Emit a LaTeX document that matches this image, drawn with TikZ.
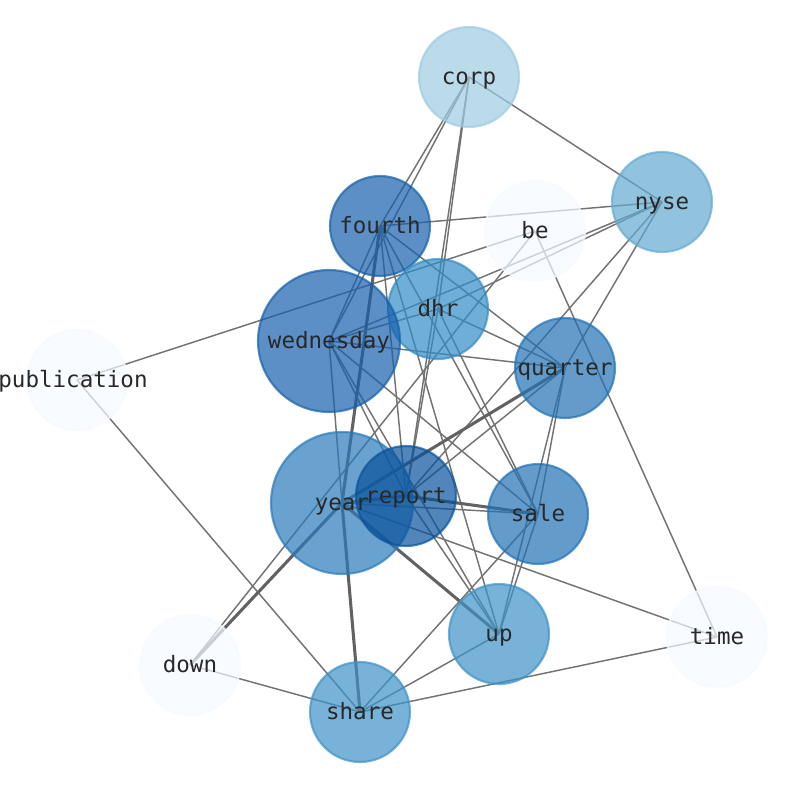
\documentclass[tikz,border=0pt]{standalone}
\usepackage{fontspec}
\newfontfamily\lblfont{DejaVu Sans Mono}
\definecolor{cCorp}{RGB}{158,202,225}
\definecolor{cNyse}{RGB}{99,169,208}
\definecolor{cPale}{RGB}{245,250,255}
\definecolor{cFourth}{RGB}{22,96,172}
\definecolor{cDhr}{RGB}{50,140,197}
\definecolor{cQuarter}{RGB}{33,113,181}
\definecolor{cYear}{RGB}{41,121,186}
\definecolor{cReport}{RGB}{8,81,156}
\definecolor{cUp}{RGB}{62,145,199}
\definecolor{cEdge}{RGB}{115,115,115}
\definecolor{cText}{RGB}{40,40,40}
\begin{document}
\begin{tikzpicture}[x=0.75pt,y=-0.75pt,
  edge/.style={draw=cEdge, line width=1.1pt},
  heavy/.style={draw=cEdge!85!black, line width=2.3pt},
  vtx/.style={circle, inner sep=0pt, minimum size=75pt, fill opacity=0.7, draw opacity=0.7, line width=1.6pt},
  bigvtx/.style={vtx, minimum size=106.5pt},
  lbl/.style={inner sep=0pt, text=cText, yshift=-1.6pt, font=\lblfont\fontsize{16.9}{18}\selectfont, text height=12pt, text depth=3.5pt}]
\useasboundingbox (0,0) rectangle (794,790);
% node centres
\coordinate (corp) at (469,77);
\coordinate (nyse) at (662,202);
\coordinate (be) at (535,231);
\coordinate (fourth) at (380,226);
\coordinate (dhr) at (438,309);
\coordinate (wed) at (329,341);
\coordinate (quarter) at (565,368);
\coordinate (pub) at (77,380);
\coordinate (year) at (342,503);
\coordinate (report) at (406,496);
\coordinate (sale) at (538,514);
\coordinate (up) at (499,634);
\coordinate (time) at (717,637);
\coordinate (down) at (190,665);
\coordinate (share) at (360,712);
% edges
\draw[edge] (corp) -- (nyse);
\draw[edge] (corp) -- (fourth);
\draw[edge] (corp) -- (wed);
\draw[edge] (corp) -- (dhr);
\draw[edge] (corp) -- (report);
\draw[edge] (nyse) -- (fourth);
\draw[edge] (nyse) -- (wed);
\draw[edge] (nyse) -- (dhr);
\draw[edge] (nyse) -- (quarter);
\draw[edge] (nyse) -- (report);
\draw[edge] (be) -- (pub);
\draw[edge] (be) -- (down);
\draw[edge] (be) -- (time);
\draw[edge] (fourth) -- (wed);
\draw[heavy] (fourth) -- (year);
\draw[edge] (fourth) -- (report);
\draw[edge] (fourth) -- (up);
\draw[edge] (fourth) -- (sale);
\draw[edge] (fourth) -- (quarter);
\draw[edge] (dhr) -- (wed);
\draw[edge] (dhr) -- (quarter);
\draw[edge] (dhr) -- (sale);
\draw[edge] (dhr) -- (report);
\draw[edge] (wed) -- (quarter);
\draw[edge] (wed) -- (year);
\draw[edge] (wed) -- (report);
\draw[edge] (wed) -- (up);
\draw[edge] (wed) -- (sale);
\draw[heavy] (quarter) -- (year);
\draw[edge] (quarter) -- (report);
\draw[edge] (quarter) -- (sale);
\draw[edge] (quarter) -- (up);
\draw[edge] (pub) -- (share);
\draw[heavy] (year) -- (report);
\draw[edge] (year) -- (sale);
\draw[heavy] (year) -- (up);
\draw[edge] (year) -- (time);
\draw[heavy] (year) -- (share);
\draw[heavy] (year) -- (down);
\draw[heavy] (report) -- (sale);
\draw[edge] (report) -- (up);
\draw[edge] (sale) -- (up);
\draw[edge] (sale) -- (share);
\draw[edge] (up) -- (share);
\draw[edge] (share) -- (time);
\draw[edge] (down) -- (share);
% nodes
\node[vtx, fill=cCorp, draw=cCorp] (corp-c) at (corp) {};
\node[vtx, fill=cNyse, draw=cNyse] (nyse-c) at (nyse) {};
\node[vtx, fill=cPale, draw=cPale] (be-c) at (be) {};
\node[vtx, fill=cFourth, draw=cFourth] (fourth-c) at (fourth) {};
\node[vtx, fill=cDhr, draw=cDhr] (dhr-c) at (dhr) {};
\node[bigvtx, fill=cFourth, draw=cFourth] (wed-c) at (wed) {};
\node[vtx, fill=cQuarter, draw=cQuarter] (quarter-c) at (quarter) {};
\node[vtx, fill=cPale, draw=cPale] (pub-c) at (pub) {};
\node[bigvtx, fill=cYear, draw=cYear] (year-c) at (year) {};
\node[vtx, fill=cReport, draw=cReport] (report-c) at (report) {};
\node[vtx, fill=cQuarter, draw=cQuarter] (sale-c) at (sale) {};
\node[vtx, fill=cUp, draw=cUp] (up-c) at (up) {};
\node[vtx, fill=cPale, draw=cPale] (time-c) at (time) {};
\node[vtx, fill=cPale, draw=cPale] (down-c) at (down) {};
\node[vtx, fill=cUp, draw=cUp] (share-c) at (share) {};
% labels
\node[lbl] (corp-l) at (corp) {corp};
\node[lbl] (nyse-l) at (nyse) {nyse};
\node[lbl] (be-l) at (be) {be};
\node[lbl] (fourth-l) at (fourth) {fourth};
\node[lbl] (dhr-l) at (dhr) {dhr};
\node[lbl] (wed-l) at (wed) {wednesday};
\node[lbl] (quarter-l) at (quarter) {quarter};
\node[lbl, xshift=-3pt] (pub-l) at (pub) {publication};
\node[lbl] (year-l) at (year) {year};
\node[lbl] (report-l) at (report) {report};
\node[lbl] (sale-l) at (sale) {sale};
\node[lbl] (up-l) at (up) {up};
\node[lbl] (time-l) at (time) {time};
\node[lbl] (down-l) at (down) {down};
\node[lbl] (share-l) at (share) {share};
\end{tikzpicture}
\end{document}
